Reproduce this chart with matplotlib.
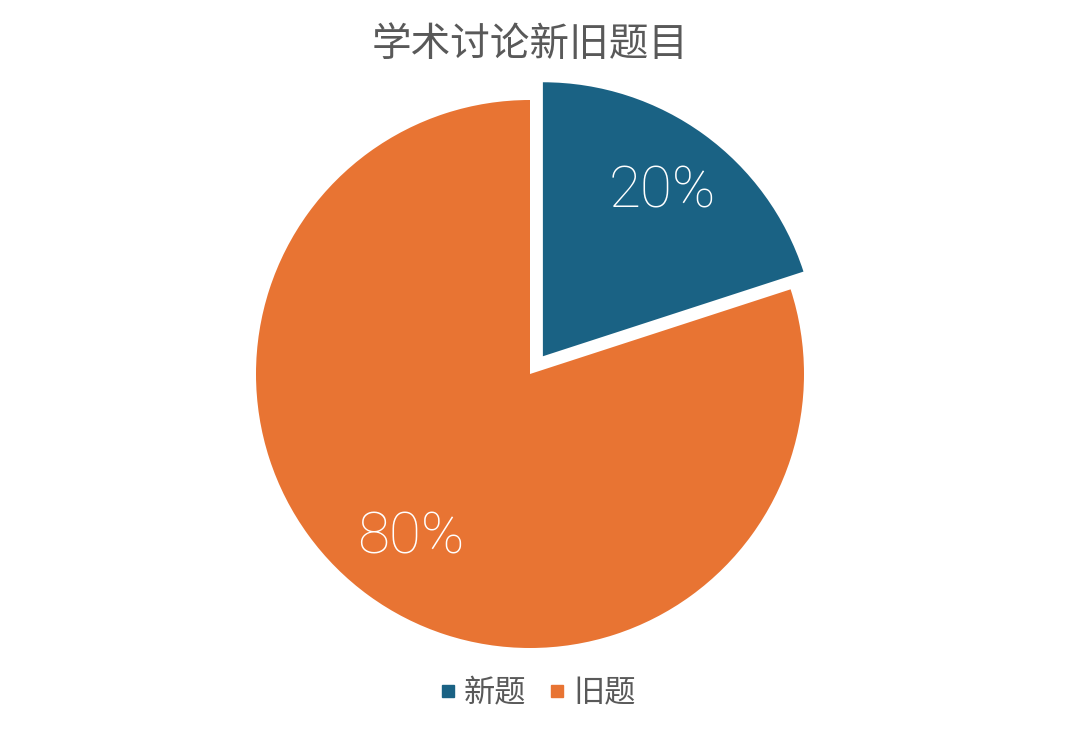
import matplotlib.pyplot as plt
from matplotlib.lines import Line2D

plt.rcParams['font.family'] = ['Noto Sans CJK SC', 'DejaVu Sans']

labels = ['新题', '旧题']
values = [20, 80]
colors = ['#1a6284', '#e87433']
explode = [0.08, 0]

fig = plt.figure(figsize=(10.8, 7.32), dpi=100)
W, H = 1080, 732
# axes sized so 1 data unit ~ 274 px, pie centre at (530, 374) px from top-left
span = 2.4
side = span * 274
cx, cy = 530, H - 374
ax = fig.add_axes([(cx - side / 2) / W, (cy - side / 2) / H, side / W, side / H])

wedges, texts, autotexts = ax.pie(values, colors=colors, explode=explode,
                                  startangle=90, counterclock=False,
                                  autopct='%d%%', pctdistance=0.74,
                                  textprops=dict(color='white', fontsize=42,
                                                 family=['Roboto', 'Liberation Sans', 'DejaVu Sans'],
                                                 fontweight='light'))
ax.set_xlim(-span / 2, span / 2)
ax.set_ylim(-span / 2, span / 2)
ax.set_aspect('equal')
ax.axis('off')

fig.text(530 / W, 1 - 45 / H, '学术讨论新旧题目', ha='center', va='center',
         fontsize=28.5, color='#595959')

handles = [Line2D([], [], marker='s', linestyle='none', markersize=9,
                  markerfacecolor=c, markeredgecolor=c) for c in colors]
fig.legend(handles, labels, loc='center', bbox_to_anchor=(534 / W, 1 - 693 / H),
           ncol=2, frameon=False, fontsize=22.5, labelcolor='#595959',
           handletextpad=0.0, columnspacing=0.5, handlelength=1.0)

fig.savefig('out.png', dpi=100)
